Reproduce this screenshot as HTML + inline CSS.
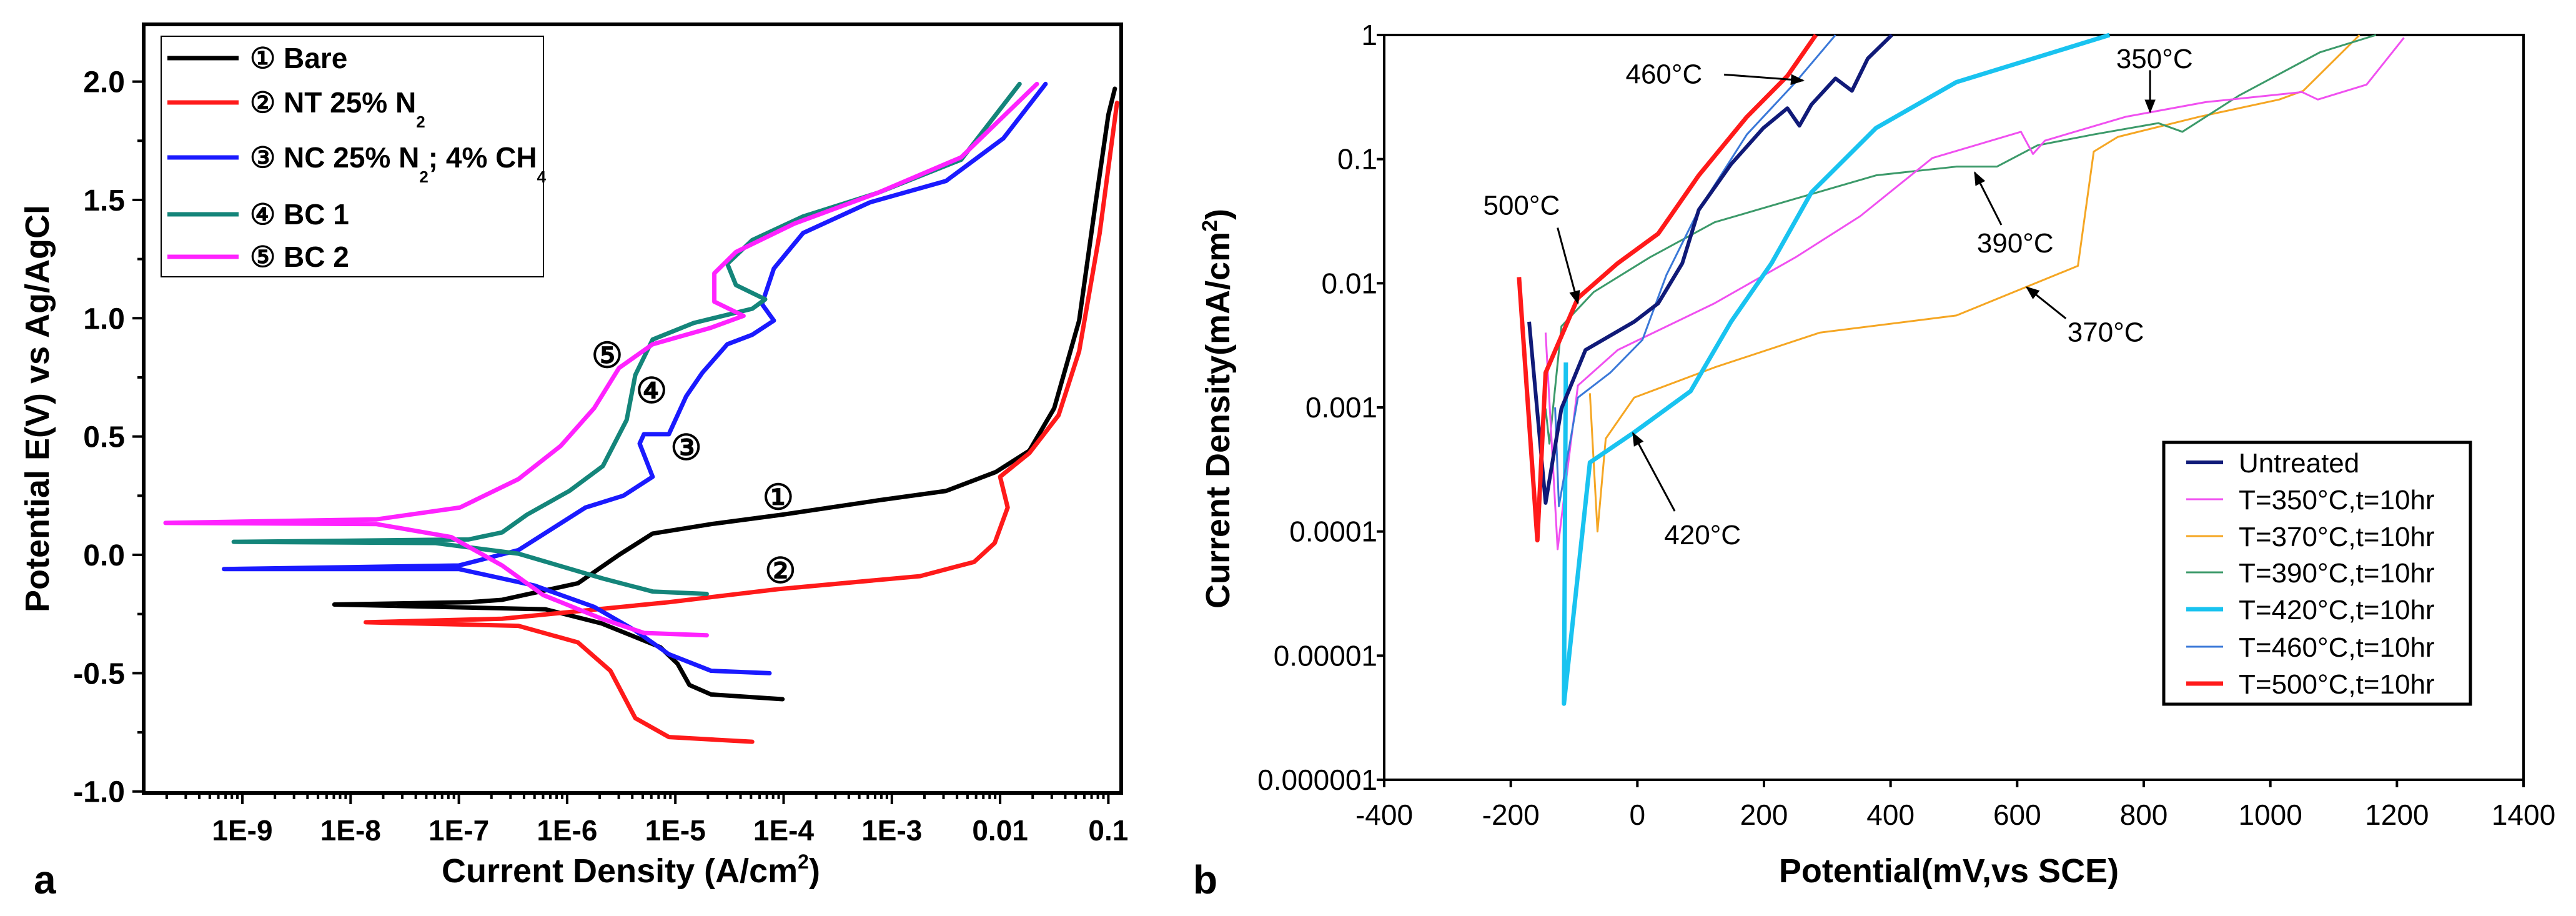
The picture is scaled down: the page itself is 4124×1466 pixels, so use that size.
<!DOCTYPE html>
<html><head><meta charset="utf-8"><style>
html,body{margin:0;padding:0;background:#fff;}
svg{display:block;font-family:"Liberation Sans",Arial,sans-serif;}
</style></head><body>
<svg id="fig" width="4124" height="1466" viewBox="0 0 4124 1466" xmlns="http://www.w3.org/2000/svg">
<defs>
<marker id="ah2" viewBox="0 0 10 10" markerWidth="22" markerHeight="22" refX="9" refY="5" orient="auto" markerUnits="userSpaceOnUse"><path d="M0,1 L10,5 L0,9 z" fill="#000"/></marker></defs>
<g id="left"></g>
<g id="right"></g>
</svg>
<script>
// ===== Chart a data (log10 current A/cm2, potential V) =====
const aSeriesNames = ["Bare","NT 25% N2","NC 25% N2; 4% CH4","BC 1","BC 2"];
const aColors = ["#000000","#ff1a1a","#1a1aff","#14857a","#ff22ff"];
const bareCathLog = [-8.15,-6.2,-5.68,-5.14,-4.98,-4.87,-4.67,-4.01];
const bareCathE   = [-0.21,-0.23,-0.29,-0.39,-0.46,-0.55,-0.59,-0.61];
const bareAnLog = [-8.15,-6.9,-6.6,-5.9,-5.52,-5.21,-4.67,-4.01,-3.13,-2.5,-2.04,-1.73,-1.5,-1.27,-1.12,-1.0,-0.94];
const bareAnE   = [-0.21,-0.2,-0.19,-0.12,0.0,0.09,0.13,0.17,0.23,0.27,0.35,0.44,0.62,0.99,1.48,1.86,1.97];
const ntCathLog = [-7.86,-6.45,-5.9,-5.6,-5.37,-5.06,-4.29];
const ntCathE   = [-0.285,-0.3,-0.37,-0.49,-0.69,-0.77,-0.79];
const ntAnLog = [-7.86,-6.6,-5.06,-4.05,-2.74,-2.24,-2.05,-1.93,-2.0,-1.73,-1.46,-1.27,-1.08,-0.92];
const ntAnE   = [-0.285,-0.27,-0.2,-0.145,-0.09,-0.03,0.05,0.2,0.33,0.43,0.59,0.86,1.36,1.91];
const ncCathLog = [-9.17,-7.0,-6.3,-5.75,-5.37,-5.06,-4.67,-4.13];
const ncCathE   = [-0.06,-0.06,-0.13,-0.22,-0.32,-0.42,-0.49,-0.5];
const ncAnLog = [-9.17,-7.0,-6.45,-5.83,-5.48,-5.21,-5.33,-5.29,-5.06,-4.9,-4.75,-4.52,-4.29,-4.09,-4.2,-4.09,-3.82,-3.2,-2.5,-1.97,-1.58];
const ncAnE   = [-0.06,-0.045,0.02,0.2,0.25,0.33,0.47,0.51,0.51,0.67,0.77,0.89,0.93,0.99,1.06,1.21,1.36,1.49,1.58,1.76,1.99];
const bc1CathLog = [-9.08,-7.22,-6.45,-5.67,-5.21,-4.71];
const bc1CathE   = [0.055,0.05,0.005,-0.1,-0.155,-0.165];
const bc1AnLog = [-9.08,-6.91,-6.6,-6.37,-5.98,-5.67,-5.45,-5.37,-5.21,-4.83,-4.29,-4.17,-4.44,-4.52,-4.29,-3.82,-3.13,-2.36,-1.82];
const bc1AnE   = [0.055,0.065,0.095,0.17,0.27,0.375,0.57,0.76,0.91,0.98,1.04,1.08,1.14,1.23,1.33,1.43,1.53,1.67,1.99];
const bc2CathLog = [-9.71,-7.76,-7.07,-6.6,-6.22,-5.68,-5.29,-4.71];
const bc2CathE   = [0.135,0.13,0.075,-0.045,-0.17,-0.27,-0.33,-0.34];
const bc2AnLog = [-9.71,-7.76,-6.99,-6.45,-6.06,-5.75,-5.52,-5.21,-4.67,-4.37,-4.64,-4.64,-4.44,-3.9,-3.13,-2.36,-1.66];
const bc2AnE   = [0.135,0.15,0.2,0.32,0.46,0.62,0.79,0.89,0.96,1.01,1.07,1.19,1.28,1.4,1.53,1.68,1.99];
const aXTicks = [-9,-8,-7,-6,-5,-4,-3,-2,-1];
const aXTickLabels = ["1E-9","1E-8","1E-7","1E-6","1E-5","1E-4","1E-3","0.01","0.1"];
const aYTicks = [-1,-0.5,0,0.5,1,1.5,2];
const aYTickLabels = ["-1.0","-0.5","0.0","0.5","1.0","1.5","2.0"];
const aMarkLabels = ["①","②","③","④","⑤"];
const aMarkLog = [-4.05,-4.03,-4.9,-5.22,-5.63];
const aMarkE = [0.24,-0.07,0.45,0.69,0.84];

// ===== Chart b data (potential mV, current density mA/cm2) =====
const bNames = ["Untreated","T=350°C,t=10hr","T=370°C,t=10hr","T=390°C,t=10hr","T=420°C,t=10hr","T=460°C,t=10hr","T=500°C,t=10hr"];
const bColors = ["#101a78","#f050f0","#f5a623","#3c9a6a","#19c3f0","#3a78d8","#ff1a1a"];
const bWidths = [6,3,3,3,7,3,7];
const untreatedV = [-171,-145,-120,-82,-5,33,71,97,148,199,237,256,275,313,339,364,402];
const untreatedI = [0.0049,0.00017,0.00098,0.0029,0.0049,0.0069,0.0145,0.039,0.091,0.178,0.257,0.186,0.275,0.447,0.355,0.646,1];
const t350V = [-145,-126,-94,-31,122,250,352,466,606,625,644,771,898,1050,1075,1152,1211];
const t350I = [0.004,0.000072,0.0015,0.0029,0.0069,0.0162,0.0347,0.102,0.166,0.11,0.141,0.219,0.288,0.347,0.302,0.398,0.95];
const t370V = [-75,-63,-50,-5,122,288,504,696,721,759,887,1014,1052,1141];
const t370I = [0.0013,0.0001,0.00056,0.0012,0.0021,0.004,0.0055,0.0138,0.115,0.151,0.219,0.302,0.355,1];
const t390V = [-145,-139,-120,-69,20,122,250,377,504,568,632,721,823,861,950,1078,1167];
const t390I = [0.00098,0.00051,0.0045,0.0085,0.0162,0.031,0.048,0.074,0.087,0.087,0.129,0.158,0.195,0.166,0.324,0.724,1];
const t420V = [-113,-116,-75,-5,84,148,212,275,377,504,746];
const t420I = [0.0023,0.0000041,0.00036,0.00063,0.00135,0.0049,0.0145,0.054,0.178,0.417,1];
const t460V = [-130,-124,-94,-43,8,46,97,173,250,313];
const t460I = [0.001,0.00016,0.0012,0.0019,0.0035,0.0117,0.039,0.158,0.417,1];
const t500V = [-187,-158,-145,-94,-31,33,97,173,237,282];
const t500I = [0.0112,0.000085,0.0019,0.0076,0.0145,0.0251,0.074,0.219,0.468,1];
const bXTicks = [-400,-200,0,200,400,600,800,1000,1200,1400];
const bXTickLabels = ["-400","-200","0","200","400","600","800","1000","1200","1400"];
const bYTicks = [1,0.1,0.01,0.001,0.0001,0.00001,0.000001];
const bYTickLabels = ["1","0.1","0.01","0.001","0.0001","0.00001","0.000001"];
const bAnnLabels = ["460°C","350°C","500°C","390°C","370°C","420°C"];
const bAnnTextV = [42,817,-183,597,740,103];
const bAnnTextI = [0.49,0.65,0.043,0.0213,0.0041,0.000095];
const bAnnFromV = [137,810,-126,575,677,59];
const bAnnFromI = [0.48,0.52,0.028,0.0295,0.0052,0.000146];
const bAnnTipV = [262,810,-94,533,615,-7];
const bAnnTipI = [0.43,0.24,0.0069,0.078,0.0093,0.00062];

const NS="http://www.w3.org/2000/svg";
function mk(parent,tag,attrs,text){const e=document.createElementNS(NS,tag);for(const k in attrs)e.setAttribute(k,attrs[k]);if(text!==undefined)e.textContent=text;parent.appendChild(e);return e;}

// ===== Chart a =====
const L=document.getElementById('left');
const aX0=230,aX1=1795,aY0=39,aY1=1269;
const ax=v=>388+(v+9)*173.3;
const ay=v=>888-v*378.7;
const aFrame=mk(L,'rect',{x:aX0,y:aY0,width:aX1-aX0,height:aY1-aY0,fill:'none',stroke:'#000','stroke-width':6});


for(let d=-10;d<=-1;d++){for(let m=1;m<10;m++){const v=d+Math.log10(m);const x=ax(v);if(x<aX0+4||x>aX1-4)continue;
 const t=mk(L,'line',{x1:x,x2:x,y1:aY1,y2:aY1+(m===1?18:10),stroke:'#000','stroke-width':4});
 
 }}
aXTicks.forEach((v,i)=>{const t=mk(L,'text',{x:ax(v),y:1345,'text-anchor':'middle','font-size':46,'font-weight':'bold'},aXTickLabels[i]);
 
 });
for(let v=-1;v<=2.001;v+=0.25){const major=Math.abs(v*2-Math.round(v*2))<1e-6;const t=mk(L,'line',{x1:aX0-(major?18:10),x2:aX0,y1:ay(v),y2:ay(v),stroke:'#000','stroke-width':4});
 
 }
aYTicks.forEach((v,i)=>{const t=mk(L,'text',{x:200,y:ay(v)+17,'text-anchor':'end','font-size':48,'font-weight':'bold'},aYTickLabels[i]);
 
 });
const aYT=mk(L,'text',{x:0,y:0,transform:'translate(78,654) rotate(-90)','text-anchor':'middle','font-size':54,'font-weight':'bold'},'Potential E(V) vs Ag/AgCl');


const aXT=mk(L,'text',{x:1010,y:1412,'text-anchor':'middle','font-size':54,'font-weight':'bold'},'Current Density (A/cm');


mk(aXT,'tspan',{dy:-22,'font-size':32},'2');
mk(aXT,'tspan',{dy:22},')');
const aLab=mk(L,'text',{x:54,y:1430,'font-size':64,'font-weight':'bold'},'a');


const aData=[[bareCathLog,bareCathE,bareAnLog,bareAnE],[ntCathLog,ntCathE,ntAnLog,ntAnE],[ncCathLog,ncCathE,ncAnLog,ncAnE],[bc1CathLog,bc1CathE,bc1AnLog,bc1AnE],[bc2CathLog,bc2CathE,bc2AnLog,bc2AnE]];
aData.forEach((s,i)=>{const pts=[];for(let k=s[0].length-1;k>=0;k--)pts.push(ax(s[0][k])+','+ay(s[1][k]));for(let k=1;k<s[2].length;k++)pts.push(ax(s[2][k])+','+ay(s[3][k]));
 const p=mk(L,'polyline',{points:pts.join(' '),fill:'none',stroke:aColors[i],'stroke-width':7,'stroke-linejoin':'round','stroke-linecap':'round'});
 
 });
aMarkLabels.forEach((l,i)=>{const t=mk(L,'text',{x:ax(aMarkLog[i]),y:ay(aMarkE[i])+18,'text-anchor':'middle','font-size':56,'font-weight':'bold'},l);
 
 });
const aLeg=mk(L,'g',{});


mk(aLeg,'rect',{x:258,y:58,width:612,height:385,fill:'#fff',stroke:'#000','stroke-width':2});
const aLegY=[93,164,252,343,411];
const aLegParts=[["① Bare"],["② NT 25% N","2"],["③ NC 25% N","2","; 4% CH","4"],["④ BC 1"],["⑤ BC 2"]];
aLegY.forEach((y,i)=>{const g=mk(aLeg,'g',{});
 
 
 mk(g,'line',{x1:268,x2:382,y1:y,y2:y,stroke:aColors[i],'stroke-width':7});
 const t=mk(g,'text',{x:400,y:y+16,'font-size':46,'font-weight':'bold'});
 aLegParts[i].forEach((p,j)=>{mk(t,'tspan',j%2?{dy:24,'font-size':26}:{dy:j?-24:0},p);});});

// ===== Chart b =====
const R=document.getElementById('right');
const bX0=2216,bX1=4040,bY0=56,bY1=1248;
const bx=v=>bX0+(v+400)*(bX1-bX0)/1800;
const by=v=>bY0-Math.log10(v)*(bY1-bY0)/6;
const bFrame=mk(R,'rect',{x:bX0,y:bY0,width:bX1-bX0,height:bY1-bY0,fill:'none',stroke:'#000','stroke-width':4});


bXTicks.forEach((v,i)=>{const t=mk(R,'line',{x1:bx(v),x2:bx(v),y1:bY1,y2:bY1+12,stroke:'#000','stroke-width':4});
 
 
 const l=mk(R,'text',{x:bx(v),y:1320,'text-anchor':'middle','font-size':46},bXTickLabels[i]);
 
 });
bYTicks.forEach((v,i)=>{const t=mk(R,'line',{x1:bX0-12,x2:bX0,y1:by(v),y2:by(v),stroke:'#000','stroke-width':4});
 
 
 const l=mk(R,'text',{x:2205,y:by(v)+16,'text-anchor':'end','font-size':46},bYTickLabels[i]);
 
 });
const bYT=mk(R,'text',{x:0,y:0,transform:'translate(1968,654) rotate(-90)','text-anchor':'middle','font-size':54,'font-weight':'bold'},'Current Density(mA/cm');


mk(bYT,'tspan',{dy:-20,'font-size':34},'2');
mk(bYT,'tspan',{dy:20},')');
const bXT=mk(R,'text',{x:3120,y:1412,'text-anchor':'middle','font-size':54,'font-weight':'bold'},'Potential(mV,vs SCE)');


const bLab=mk(R,'text',{x:1910,y:1430,'font-size':64,'font-weight':'bold'},'b');


const bData=[[untreatedV,untreatedI],[t350V,t350I],[t370V,t370I],[t390V,t390I],[t420V,t420I],[t460V,t460I],[t500V,t500I]];
const order=[2,3,1,4,5,0,6];
order.forEach(i=>{const s=bData[i];const pts=s[0].map((v,k)=>bx(v)+','+by(s[1][k])).join(' ');
 const p=mk(R,'polyline',{points:pts,fill:'none',stroke:bColors[i],'stroke-width':bWidths[i],'stroke-linejoin':'round'});
 
 });
bAnnLabels.forEach((l,i)=>{const t=mk(R,'text',{x:bx(bAnnTextV[i]),y:by(bAnnTextI[i])+16,'text-anchor':'middle','font-size':44},l);
 
 
 const a=mk(R,'line',{x1:bx(bAnnFromV[i]),y1:by(bAnnFromI[i]),x2:bx(bAnnTipV[i]),y2:by(bAnnTipI[i]),stroke:'#000','stroke-width':3,'marker-end':'url(#ah2)'});
 
 });
const bLeg=mk(R,'g',{});


mk(bLeg,'rect',{x:3464,y:708,width:491,height:419,fill:'#fff',stroke:'#000','stroke-width':5});
const bLegY=[740,799,858,916,975,1035,1094];
bNames.forEach((n,i)=>{const g=mk(bLeg,'g',{});
 
 
 mk(g,'line',{x1:3500,x2:3559,y1:bLegY[i],y2:bLegY[i],stroke:bColors[i],'stroke-width':bWidths[i]});
 mk(g,'text',{x:3584,y:bLegY[i]+16,'font-size':44},n);});
</script>
</body></html>
